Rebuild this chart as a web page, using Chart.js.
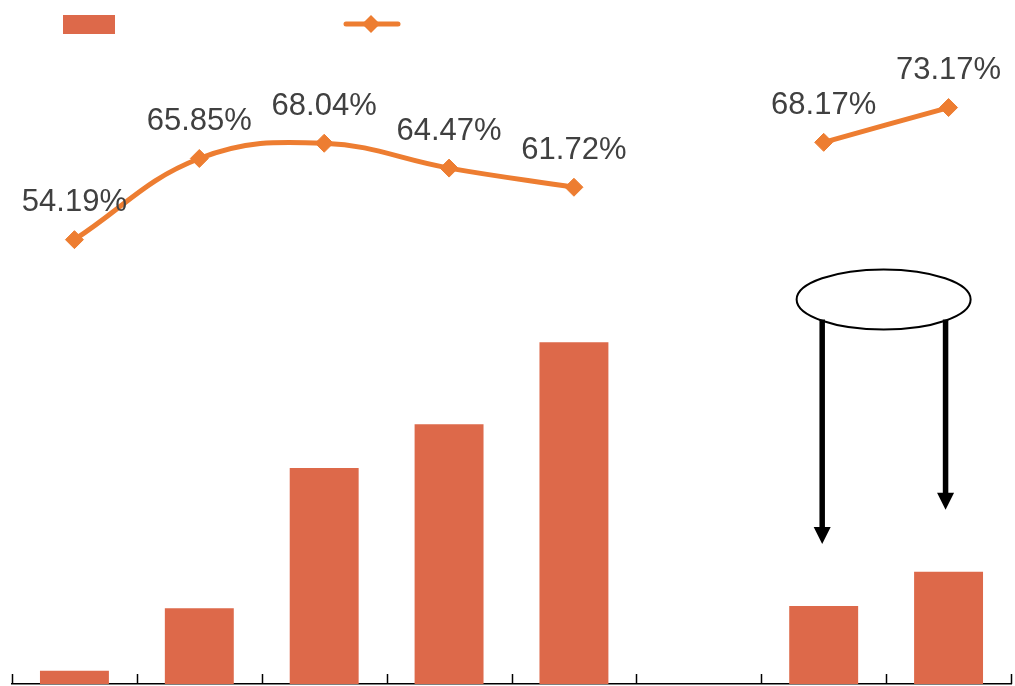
<!DOCTYPE html>
<html>
<head>
<meta charset="utf-8">
<script src="https://cdn.jsdelivr.net/npm/chart.js@4/dist/chart.umd.min.js"></script>
<style>
  html, body { margin: 0; padding: 0; background: #fff; }
  canvas { display: block; }
</style>
</head>
<body>
<canvas id="combo" width="1015" height="686"></canvas>
<script>
// chart data
const categories = ["", "", "", "", "", "", "", ""];
const barValues = [17, 97, 277, 333, 438, null, 100, 144];
const rateValues = [54.19, 65.85, 68.04, 64.47, 61.72, null, 68.17, 73.17];

const BAR_COLOR = "#DD694A";
const LINE_COLOR = "#ED7D31";
const TEXT_COLOR = "#404040";

// legend glyphs at the top (the legend has no visible text)
const legendPlugin = {
  id: "topLegend",
  afterDraw: (chart) => {
    const ctx = chart.ctx;
    ctx.save();
    ctx.fillStyle = BAR_COLOR;
    ctx.fillRect(63, 15, 52, 19);
    ctx.strokeStyle = LINE_COLOR;
    ctx.lineWidth = 5;
    ctx.lineCap = "round";
    ctx.beginPath();
    ctx.moveTo(346, 24);
    ctx.lineTo(398, 24);
    ctx.stroke();
    ctx.fillStyle = LINE_COLOR;
    ctx.beginPath();
    ctx.moveTo(371 - 9, 24);
    ctx.lineTo(371, 15);
    ctx.lineTo(371 + 9, 24);
    ctx.lineTo(371, 33);
    ctx.closePath();
    ctx.fill();
    ctx.restore();
  },
};

// percentage labels above the line points
const rateLabelPlugin = {
  id: "rateLabels",
  afterDatasetsDraw: (chart) => {
    const ctx = chart.ctx;
    const meta = chart.getDatasetMeta(1);
    ctx.save();
    ctx.font = "31px 'Liberation Sans', Arial, sans-serif";
    ctx.fillStyle = TEXT_COLOR;
    ctx.textAlign = "center";
    ctx.textBaseline = "middle";
    meta.data.forEach((pt, i) => {
      const v = rateValues[i];
      if (v === null || pt.skip) return;
      ctx.fillText(v.toFixed(2) + "%", pt.x, pt.y - 37);
    });
    ctx.restore();
  },
};

// small upward ticks on the category boundaries
const tickPlugin = {
  id: "upTicks",
  afterDraw: (chart) => {
    const ctx = chart.ctx;
    const x = chart.scales.x;
    const bottom = chart.chartArea.bottom;
    const half = (x.getPixelForValue(1) - x.getPixelForValue(0)) / 2;
    ctx.save();
    ctx.strokeStyle = "#000";
    ctx.lineWidth = 1.5;
    for (let i = 0; i <= categories.length; i++) {
      const px = Math.round(x.getPixelForValue(i) - half) + 0.5;
      ctx.beginPath();
      ctx.moveTo(px, bottom);
      ctx.lineTo(px, bottom - 10);
      ctx.stroke();
    }
    ctx.restore();
  },
};

// ellipse with two arrows pointing at the last two bars
const calloutPlugin = {
  id: "callout",
  afterDraw: (chart) => {
    const ctx = chart.ctx;
    const x = chart.scales.x;
    const y = chart.scales.y;
    const x6 = x.getPixelForValue(6) - 1.5;
    const x7 = x.getPixelForValue(7) - 3;
    const cx = (x.getPixelForValue(6) + x.getPixelForValue(7)) / 2 - 2.5;
    const cy = 299.5;

    function arrow(ax, tipY) {
      ctx.strokeStyle = "#000";
      ctx.fillStyle = "#000";
      ctx.lineWidth = 5.5;
      ctx.beginPath();
      ctx.moveTo(ax, cy + 20);
      ctx.lineTo(ax, tipY - 14);
      ctx.stroke();
      ctx.beginPath();
      ctx.moveTo(ax - 8.5, tipY - 17);
      ctx.lineTo(ax + 8.5, tipY - 17);
      ctx.lineTo(ax, tipY);
      ctx.closePath();
      ctx.fill();
    }

    ctx.save();
    ctx.fillStyle = "#fff";
    ctx.strokeStyle = "#000";
    ctx.lineWidth = 2;
    ctx.beginPath();
    ctx.ellipse(cx, cy, 87, 30, 0, 0, Math.PI * 2);
    ctx.fill();
    ctx.stroke();
    arrow(x6, y.getPixelForValue(barValues[6]) - 62);
    arrow(x7, y.getPixelForValue(barValues[7]) - 62);
    ctx.restore();
  },
};

const ctx = document.getElementById("combo").getContext("2d");
const comboChart = new Chart(ctx, {
  type: "bar",
  data: {
    labels: categories,
    datasets: [
      {
        type: "bar",
        label: "",
        data: barValues,
        backgroundColor: BAR_COLOR,
        borderWidth: 0,
        categoryPercentage: 1,
        barPercentage: 0.552,
        yAxisID: "y",
        order: 2,
      },
      {
        type: "line",
        label: "",
        data: rateValues,
        borderColor: LINE_COLOR,
        backgroundColor: LINE_COLOR,
        borderWidth: 5,
        tension: 0.4,
        spanGaps: false,
        pointStyle: "rectRot",
        pointRadius: 9,
        pointBorderWidth: 1,
        pointBackgroundColor: LINE_COLOR,
        pointBorderColor: LINE_COLOR,
        yAxisID: "y2",
        order: 1,
      },
    ],
  },
  plugins: [legendPlugin, rateLabelPlugin, tickPlugin, calloutPlugin],
  options: {
    responsive: false,
    animation: false,
    devicePixelRatio: 1,
    layout: {
      autoPadding: false,
      padding: { left: 12, right: 4, top: 60, bottom: 2 },
    },
    plugins: {
      legend: { display: false },
      tooltip: { enabled: false },
    },
    scales: {
      x: {
        offset: true,
        ticks: { display: false },
        grid: { display: false, drawTicks: false },
        border: { display: true, color: "#000", width: 1.5 },
      },
      y: {
        display: false,
        min: 0,
        max: 800,
      },
      y2: {
        display: false,
        position: "right",
        min: -9.65,
        max: 80,
      },
    },
  },
});
</script>
</body>
</html>
